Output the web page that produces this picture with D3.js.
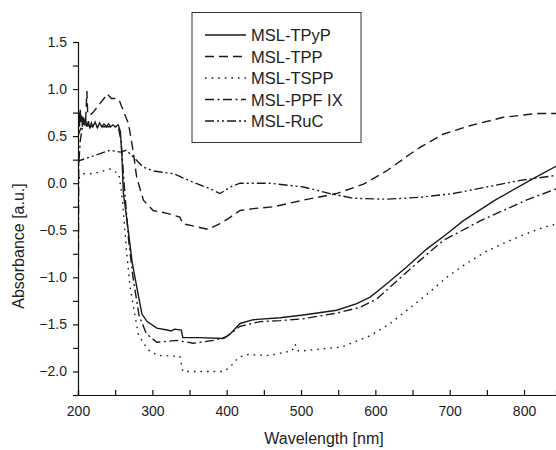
<!DOCTYPE html>
<html>
<head>
<meta charset="utf-8">
<script src="https://cdn.jsdelivr.net/npm/d3@7"></script>
<style>
  body { margin: 0; background: #fff; }
  svg { display: block; font-family: "Liberation Sans", Arial, sans-serif; }
</style>
</head>
<body>
<div id="chart"></div>
<script>
// series names, in legend order
const seriesNames = ["MSL-TPyP", "MSL-TPP", "MSL-TSPP", "MSL-PPF IX", "MSL-RuC"];

// MSL-TPyP (solid)
const tpypX = [200, 201, 202, 203, 204, 205, 206, 207, 208, 210, 212, 214, 216, 218, 220, 223, 226, 229, 232, 235, 238, 241, 244, 247, 250, 254, 257, 259, 261, 266, 273, 279, 286, 293, 306, 320, 325, 330, 339, 341, 364, 396, 405, 418, 436, 472, 503, 548, 575, 593, 615, 642, 669, 696, 718, 761, 808, 850];
const tpypY = [0.55, 0.75, 0.6, 0.78, 0.65, 0.72, 0.6, 0.7, 0.62, 0.68, 0.6, 0.66, 0.58, 0.64, 0.6, 0.65, 0.59, 0.64, 0.6, 0.63, 0.6, 0.63, 0.6, 0.62, 0.6, 0.62, 0.55, 0.3, -0.1, -0.4, -0.85, -1.1, -1.39, -1.47, -1.54, -1.56, -1.57, -1.55, -1.56, -1.64, -1.64, -1.65, -1.6, -1.49, -1.45, -1.43, -1.4, -1.35, -1.28, -1.21, -1.07, -0.89, -0.7, -0.54, -0.4, -0.18, 0.03, 0.21];

// MSL-TPP (dashed)
const tppX = [200, 202, 205, 208, 210, 212, 213, 216, 220, 225, 230, 235, 239, 245, 252, 256, 262, 268, 274, 279, 288, 301, 320, 337, 341, 364, 375, 391, 405, 418, 436, 463, 503, 548, 584, 615, 647, 660, 691, 727, 772, 817, 850];
const tppY = [0.5, 0.55, 0.6, 0.68, 0.62, 0.98, 0.75, 0.72, 0.75, 0.8, 0.85, 0.9, 0.95, 0.9, 0.9, 0.87, 0.75, 0.63, 0.35, 0.06, -0.18, -0.29, -0.32, -0.36, -0.43, -0.47, -0.49, -0.43, -0.36, -0.29, -0.27, -0.25, -0.18, -0.11, -0.01, 0.13, 0.31, 0.38, 0.52, 0.61, 0.7, 0.74, 0.74];

// MSL-TSPP (dotted)
const tsppX = [201, 207, 220, 243, 255, 260, 265, 270, 277, 281, 288, 297, 308, 337, 341, 396, 405, 416, 429, 458, 488, 492, 496, 503, 555, 593, 620, 644, 671, 696, 721, 748, 772, 799, 826, 850];
const tsppY = [0.05, 0.1, 0.1, 0.15, 0.1, -0.2, -0.7, -1.1, -1.42, -1.6, -1.7, -1.79, -1.83, -1.84, -2.0, -2.0, -1.95, -1.85, -1.82, -1.83, -1.78, -1.71, -1.78, -1.78, -1.74, -1.62, -1.49, -1.34, -1.17, -1.0, -0.86, -0.73, -0.64, -0.55, -0.47, -0.42];

// MSL-PPF IX (dash-dot)
const ppfX = [200, 201, 203, 206, 210, 220, 240, 254, 258, 262, 268, 274, 282, 292, 306, 333, 355, 382, 400, 418, 445, 472, 503, 548, 579, 602, 633, 660, 691, 741, 803, 850];
const ppfY = [-2.05, 0.2, 0.45, 0.6, 0.62, 0.6, 0.6, 0.6, 0.45, 0.0, -0.6, -1.0, -1.4, -1.6, -1.69, -1.67, -1.7, -1.67, -1.63, -1.52, -1.47, -1.46, -1.44, -1.38, -1.32, -1.23, -1.01, -0.82, -0.61, -0.4, -0.18, -0.04];

// MSL-RuC (dash-dot-dot)
const rucX = [200, 202, 217, 243, 257, 265, 274, 288, 302, 329, 355, 378, 391, 405, 418, 458, 503, 539, 570, 615, 660, 705, 750, 795, 850];
const rucY = [0.2, 0.24, 0.28, 0.35, 0.33, 0.35, 0.28, 0.17, 0.13, 0.1, 0.01, -0.06, -0.11, -0.04, 0.0, 0.0, -0.04, -0.11, -0.16, -0.17, -0.15, -0.11, -0.04, 0.03, 0.09];

const xTicks = [200, 300, 400, 500, 600, 700, 800];
const yTicks = [-2.0, -1.5, -1.0, -0.5, 0.0, 0.5, 1.0, 1.5];

const width = 556;
const height = 450;
const margin = {top: 42, right: 0, bottom: 55, left: 78};

const x = d3.scaleLinear()
    .domain([200, 843])
    .range([margin.left, width - margin.right]);

const y = d3.scaleLinear()
    .domain([-2.25, 1.5])
    .range([height - margin.bottom, margin.top]);

const svg = d3.select("#chart")
    .append("svg")
    .attr("width", width)
    .attr("height", height);

svg.append("clipPath").attr("id", "clip")
    .append("rect")
    .attr("x", margin.left).attr("y", 0)
    .attr("width", width - margin.left).attr("height", height - margin.bottom);

const series = [
    {xs: tpypX, ys: tpypY, dash: null},
    {xs: tppX, ys: tppY, dash: "9,5"},
    {xs: tsppX, ys: tsppY, dash: "1.6,5"},
    {xs: ppfX, ys: ppfY, dash: "9,3.5,2,3.5"},
    {xs: rucX, ys: rucY, dash: "9,3,2,3,2,3"}
];

const line = d3.line()
    .x(d => x(d[0]))
    .y(d => y(d[1]));

svg.append("g")
    .attr("clip-path", "url(#clip)")
    .selectAll("path")
    .data(series)
    .join("path")
    .attr("d", s => line(s.xs.map((v, i) => [v, s.ys[i]])))
    .attr("fill", "none")
    .attr("stroke", "#1a1a1a")
    .attr("stroke-width", 1.4)
    .attr("stroke-dasharray", s => s.dash);

// x axis, ticks pointing inward
const xAxis = svg.append("g")
    .attr("transform", `translate(0, ${y(-2.25)})`)
    .call(d3.axisBottom(x).tickValues(d3.range(200, 850, 50)).tickSize(-5)
        .tickFormat(d => xTicks.includes(d) ? d : ""))
    .attr("font-size", "14px")
    .attr("font-family", "Liberation Sans, Arial, sans-serif");
xAxis.selectAll("text").attr("dy", "1.25em").attr("fill", "#222");

// y axis, ticks pointing outward
const yAxis = svg.append("g")
    .attr("transform", `translate(${margin.left}, 0)`)
    .call(d3.axisLeft(y).tickValues(d3.range(-2.25, 1.51, 0.25)).tickSize(5).tickPadding(6)
        .tickFormat(d => yTicks.some(t => Math.abs(t - d) < 1e-6) ? d3.format(".1f")(d) : ""))
    .attr("font-size", "14px")
    .attr("font-family", "Liberation Sans, Arial, sans-serif");
yAxis.selectAll("text").attr("fill", "#222");

svg.selectAll(".domain").attr("stroke", "#111").attr("stroke-width", 1.2);
svg.selectAll(".tick line").attr("stroke", "#111").attr("stroke-width", 1.2);

svg.append("text")
    .attr("x", 324).attr("y", 444)
    .attr("text-anchor", "middle")
    .attr("font-size", "16px")
    .attr("fill", "#222")
    .text("Wavelength [nm]");

svg.append("text")
    .attr("transform", "translate(24, 246) rotate(-90)")
    .attr("text-anchor", "middle")
    .attr("font-size", "16px")
    .attr("fill", "#222")
    .text("Absorbance [a.u.]");

// legend
const legend = svg.append("g");
legend.append("rect")
    .attr("x", 192).attr("y", 12.5)
    .attr("width", 169).attr("height", 130)
    .attr("fill", "#fff")
    .attr("stroke", "#333")
    .attr("stroke-width", 1);

const rows = legend.selectAll("g.row")
    .data(seriesNames)
    .join("g")
    .attr("class", "row")
    .attr("transform", (d, i) => `translate(0, ${35 + i * 21.5})`);

rows.append("line")
    .attr("x1", 205).attr("x2", 246)
    .attr("stroke", "#1a1a1a")
    .attr("stroke-width", 1.4)
    .attr("stroke-dasharray", (d, i) => series[i].dash);

rows.append("text")
    .attr("x", 251).attr("y", 6)
    .attr("font-size", "16.5px")
    .attr("fill", "#222")
    .text(d => d);
</script>
</body>
</html>
